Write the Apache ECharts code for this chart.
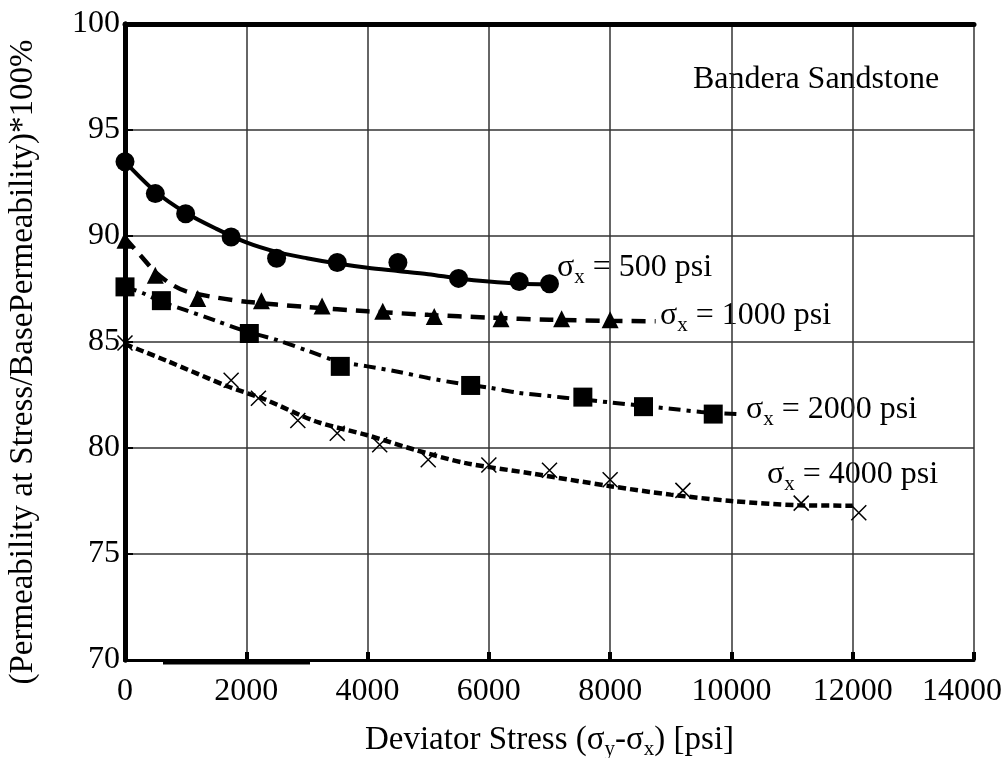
<!DOCTYPE html>
<html>

<head lang="en">
    <meta charset="utf-8">
    <title>Bandera Sandstone</title>
    <script src="https://cdn.jsdelivr.net/npm/echarts@6/dist/echarts.min.js"></script>
</head>

<body style="margin:0;background:#fff;">
    <div id="main" style="width: 1008px;height:758px;"></div>
    <script type="text/javascript">
        var myChart = echarts.init(document.getElementById('main'));

        /*--------------------- measured points ----------------------------*/
        var s500X = [0, 500, 1000, 1750, 2500, 3500, 4500, 5500, 6500, 7000];
        var s500Y = [93.5, 92.0, 91.05, 89.95, 88.95, 88.75, 88.75, 88.0, 87.85, 87.75];

        var s1000X = [0, 500, 1200, 2250, 3250, 4250, 5100, 6200, 7200, 8000];
        var s1000Y = [89.8, 88.15, 87.05, 86.95, 86.7, 86.45, 86.2, 86.1, 86.1, 86.05];

        var s2000X = [0, 600, 2050, 3550, 5700, 7550, 8550, 9700];
        var s2000Y = [87.6, 86.95, 85.4, 83.85, 82.95, 82.4, 81.95, 81.6];

        var s4000X = [0, 1750, 2200, 2850, 3500, 4200, 5000, 6000, 7000, 8000, 9200, 11150, 12100];
        var s4000Y = [84.95, 83.2, 82.35, 81.3, 80.7, 80.15, 79.45, 79.2, 78.95, 78.5, 78.0, 77.4, 76.95];

        /*--------------------- fitted trend lines ----------------------------*/
        var fit500X = [0, 500, 1000, 1500, 2000, 2500, 3000, 3500, 4000, 4500, 5000, 5500, 6000, 6500, 7000];
        var fit500Y = [93.5, 92.1, 91.1, 90.35, 89.7, 89.25, 88.95, 88.7, 88.5, 88.35, 88.2, 88.0, 87.85, 87.75, 87.72];

        var fit1000X = [0, 250, 500, 750, 1000, 1500, 2000, 3000, 4000, 5000, 6000, 7000, 8000, 8750];
        var fit1000Y = [89.9, 89.1, 88.3, 87.75, 87.4, 87.1, 86.9, 86.65, 86.45, 86.28, 86.15, 86.05, 86.0, 85.98];

        var fit2000X = [0, 300, 600, 1000, 1500, 2000, 2500, 3000, 3500, 4000, 4500, 5000, 5500, 6000, 6500, 7000, 7500, 8000, 8500, 9000, 9500, 10100];
        var fit2000Y = [87.6, 87.3, 86.9, 86.5, 86.0, 85.5, 85.1, 84.6, 84.1, 83.85, 83.6, 83.3, 83.05, 82.85, 82.6, 82.45, 82.3, 82.15, 82.0, 81.85, 81.7, 81.6];

        var fit4000X = [0, 700, 1700, 2300, 3150, 4000, 4800, 5600, 6700, 8000, 9000, 10000, 11100, 12000];
        var fit4000Y = [84.9, 84.1, 82.9, 82.3, 81.25, 80.6, 79.9, 79.3, 78.8, 78.2, 77.8, 77.5, 77.3, 77.28];

        var xTicks = [0, 2000, 4000, 6000, 8000, 10000, 12000, 14000];
        var yTicks = [70, 75, 80, 85, 90, 95, 100];

        function zip(xs, ys) {
            return xs.map(function (x, i) { return [x, ys[i]]; });
        }

        var font = 'Liberation Serif';
        var rich = {
            m: { fontFamily: font, fontSize: 32, lineHeight: 40, color: '#000' },
            sub: { fontFamily: font, fontSize: 21, lineHeight: 20, verticalAlign: 'bottom', color: '#000' }
        };
        var richName = {
            m: { fontFamily: font, fontSize: 33, lineHeight: 40, color: '#000' },
            sub: { fontFamily: font, fontSize: 21, lineHeight: 20, verticalAlign: 'bottom', color: '#000' }
        };

        function sigLabel(x, y, psi) {
            return {
                type: 'text',
                x: x,
                y: y,
                style: {
                    text: '{m|σ}{sub|x}{m| = ' + psi + ' psi}',
                    rich: rich,
                    verticalAlign: 'middle'
                }
            };
        }

        var crossPath = 'path://M0,0L10,10M10,0L0,10';

        var option = {
            backgroundColor: '#fff',
            animation: false,
            grid: {
                left: 125,
                right: 34,
                top: 24,
                bottom: 98,
                show: false,
                outerBoundsMode: 'none',
                containLabel: false
            },
            xAxis: [{
                type: 'value',
                min: 0,
                max: 14000,
                interval: 2000,
                name: '{m|Deviator Stress (σ}{sub|y}{m|-σ}{sub|x}{m|) [psi]}',
                nameLocation: 'middle',
                nameGap: 60,
                nameTextStyle: { rich: richName },
                axisLine: { lineStyle: { color: '#000', width: 3 } },
                axisTick: { inside: true, length: 8, lineStyle: { color: '#000', width: 4 } },
                axisLabel: {
                    margin: 16,
                    color: '#000',
                    fontFamily: font,
                    fontSize: 32,
                    customValues: xTicks,
                    formatter: function (v) {
                        // last label sits pulled in from the right edge
                        return v === 14000 ? '{last|' + v + '}' : String(v);
                    },
                    rich: {
                        last: { fontFamily: font, fontSize: 32, color: '#000', padding: [0, 24, 0, 0] }
                    }
                },
                splitLine: { show: true, lineStyle: { color: '#333', width: 1.5 } }
            }, {
                type: 'value',
                position: 'top',
                min: 0,
                max: 14000,
                interval: 2000,
                axisLine: { lineStyle: { color: '#000', width: 5 } },
                axisTick: { show: false },
                axisLabel: { show: false },
                splitLine: { show: false }
            }],
            yAxis: [{
                type: 'value',
                min: 70,
                max: 100,
                interval: 5,
                name: '(Permeability at Stress/BasePermeability)*100%',
                nameLocation: 'middle',
                nameGap: 85,
                nameTextStyle: { color: '#000', fontFamily: font, fontSize: 33, padding: [0, 40, 0, 0] },
                axisLine: { show: true, lineStyle: { color: '#000', width: 5 } },
                axisTick: { show: true, inside: true, length: 8, lineStyle: { color: '#000', width: 2 } },
                axisLabel: {
                    margin: 5,
                    color: '#000',
                    fontFamily: font,
                    fontSize: 32,
                    customValues: yTicks,
                    formatter: function (v) { return String(v); }
                },
                splitLine: { show: true, lineStyle: { color: '#333', width: 1.5 } }
            }, {
                type: 'value',
                position: 'right',
                min: 70,
                max: 100,
                interval: 5,
                axisLine: { show: true, lineStyle: { color: '#000', width: 5 } },
                axisTick: { show: false },
                axisLabel: { show: false },
                splitLine: { show: false }
            }],
            graphic: [
                {
                    type: 'text',
                    x: 693,
                    y: 80,
                    style: {
                        text: 'Bandera Sandstone',
                        fontFamily: font,
                        fontSize: 32,
                        fill: '#000',
                        verticalAlign: 'middle'
                    }
                },
                sigLabel(557, 268, 500),
                sigLabel(660, 316, 1000),
                sigLabel(746, 410, 2000),
                sigLabel(767, 475, 4000),
                {
                    // stray stroke under the axis in the source figure
                    type: 'line',
                    shape: { x1: 163, y1: 663, x2: 310, y2: 663 },
                    style: { stroke: '#000', lineWidth: 3 }
                }
            ],
            series: [
                // 趋势线
                {
                    name: 'fit500',
                    type: 'line',
                    smooth: 0.3,
                    symbol: 'none',
                    lineStyle: { color: '#000', width: 4, type: 'solid' },
                    data: zip(fit500X, fit500Y)
                },
                {
                    name: 'fit1000',
                    type: 'line',
                    smooth: 0.3,
                    symbol: 'none',
                    lineStyle: { color: '#000', width: 4.5, type: [14, 9] },
                    data: zip(fit1000X, fit1000Y)
                },
                {
                    name: 'fit2000',
                    type: 'line',
                    smooth: 0.3,
                    symbol: 'none',
                    lineStyle: { color: '#000', width: 4, type: [12, 6, 4, 6] },
                    data: zip(fit2000X, fit2000Y)
                },
                {
                    name: 'fit4000',
                    type: 'line',
                    smooth: 0.3,
                    symbol: 'none',
                    lineStyle: { color: '#000', width: 4.5, type: [8, 4] },
                    data: zip(fit4000X, fit4000Y)
                },
                // 测点
                {
                    name: '500 psi',
                    type: 'scatter',
                    symbol: 'circle',
                    symbolSize: 19,
                    itemStyle: { color: '#000', opacity: 1 },
                    data: zip(s500X, s500Y)
                },
                {
                    name: '1000 psi',
                    type: 'scatter',
                    symbol: 'triangle',
                    symbolSize: 17,
                    itemStyle: { color: '#000', opacity: 1 },
                    data: zip(s1000X, s1000Y)
                },
                {
                    name: '2000 psi',
                    type: 'scatter',
                    symbol: 'rect',
                    symbolSize: 19,
                    itemStyle: { color: '#000', opacity: 1 },
                    data: zip(s2000X, s2000Y)
                },
                {
                    name: '4000 psi',
                    type: 'scatter',
                    symbol: crossPath,
                    symbolSize: 15,
                    itemStyle: { color: 'none', borderColor: '#000', borderWidth: 1.5, opacity: 1 },
                    data: zip(s4000X, s4000Y)
                }
            ]
        };
        myChart.setOption(option);
    </script>
</body>

</html>
